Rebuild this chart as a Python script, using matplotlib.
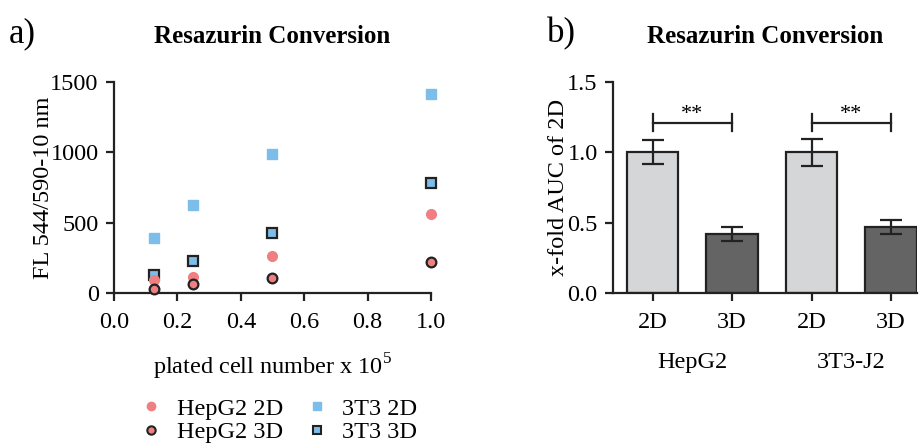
import numpy as np
import matplotlib
matplotlib.use('Agg')
import matplotlib.pyplot as plt
from matplotlib.lines import Line2D

# Resazurin conversion data
cells = [0.125, 0.25, 0.5, 1.0]          # plated cell number x 10^5
hepg2_2d = [95, 116, 265, 562]
hepg2_3d = [28, 66, 107, 223]
t3_2d = [393, 625, 988, 1415]
t3_3d = [130, 227, 429, 784]

bar_labels = ['2D', '3D', '2D', '3D']
groups = ['HepG2', '3T3-J2']
auc = [1.0, 0.42, 1.0, 0.47]
auc_err = [0.085, 0.048, 0.097, 0.048]

plt.rcParams['font.family'] = 'Liberation Serif'
plt.rcParams['mathtext.fontset'] = 'custom'
plt.rcParams['mathtext.rm'] = 'Liberation Serif'

pink = '#f07f82'
blue = '#7dbde9'
light = '#d5d6d8'
dark = '#646464'
fs = 17.5
lw = 1.6

fig = plt.figure(figsize=(9.19, 4.46), dpi=100)
ax1 = fig.add_axes([0.124, 0.343, 0.345, 0.473])
ax2 = fig.add_axes([0.667, 0.343, 0.331, 0.473])

# a) scatter
ms = 7
ax1.plot(cells, t3_2d, 's', color=blue, markersize=ms, markeredgecolor=blue, clip_on=False, zorder=3)
ax1.plot(cells, t3_3d, 's', color=blue, markersize=ms, markeredgecolor='#222222', markeredgewidth=1.6, clip_on=False, zorder=3)
ax1.plot(cells, hepg2_2d, 'o', color=pink, markersize=ms, markeredgecolor=pink, clip_on=False, zorder=3)
ax1.plot(cells, hepg2_3d, 'o', color=pink, markersize=ms, markeredgecolor='#222222', markeredgewidth=1.6, clip_on=False, zorder=3)
ax1.set_xlim(0, 1.0)
ax1.set_ylim(0, 1500)
ax1.set_xticks(np.arange(0, 1.01, 0.2))
ax1.set_xticklabels(['%.1f' % v for v in np.arange(0, 1.01, 0.2)])
ax1.set_yticks([0, 500, 1000, 1500])
ax1.set_xlabel('plated cell number x 10$^5$', fontsize=fs, labelpad=13)
ax1.set_ylabel('FL 544/590-10 nm', fontsize=fs)
ax1.yaxis.set_label_coords(-0.19, 0.5)
ax1.set_title('Resazurin Conversion', fontsize=18, fontweight='bold', pad=28)

# b) bars
pos = np.arange(len(auc))
ax2.bar(pos, auc, width=0.65, color=[light, dark, light, dark], edgecolor='#222222', linewidth=lw, zorder=2)
ax2.errorbar(pos, auc, yerr=auc_err, fmt='none', ecolor='#222222', elinewidth=lw, capsize=8, capthick=lw, zorder=3)
for i in [0, 2]:
    ax2.plot([pos[i], pos[i]], [1.15, 1.27], color='#222222', lw=lw)
    ax2.plot([pos[i + 1], pos[i + 1]], [1.15, 1.27], color='#222222', lw=lw)
    ax2.plot([pos[i], pos[i + 1]], [1.21, 1.21], color='#222222', lw=lw)
    ax2.text((pos[i] + pos[i + 1]) / 2, 1.20, '**', ha='center', va='bottom', fontsize=16)
ax2.set_xlim(-0.5, 3.33)
ax2.set_ylim(0, 1.5)
ax2.set_xticks(pos)
ax2.set_xticklabels(bar_labels)
ax2.set_yticks([0, 0.5, 1.0, 1.5])
ax2.set_yticklabels(['0.0', '0.5', '1.0', '1.5'])
ax2.set_ylabel('x-fold AUC of 2D', fontsize=fs)
ax2.yaxis.set_label_coords(-0.145, 0.5)
ax2.set_title('Resazurin Conversion', fontsize=18, fontweight='bold', pad=28)
for j, g in enumerate(groups):
    ax2.text(2 * j + 0.5, -0.33, g, transform=ax2.get_xaxis_transform(), ha='center', va='center', fontsize=fs)

for ax in (ax1, ax2):
    for s in ['top', 'right']:
        ax.spines[s].set_visible(False)
    for s in ['left', 'bottom']:
        ax.spines[s].set_linewidth(lw)
        ax.spines[s].set_color('#222222')
    ax.tick_params(width=lw, length=6, labelsize=fs, color='#222222', pad=5)
    ax.tick_params(axis='x', pad=8)

fig.text(0.010, 0.905, 'a)', fontsize=25)
fig.text(0.595, 0.905, 'b)', fontsize=25)

handles = [
    Line2D([], [], ls='none', marker='o', color=pink, markersize=6, markeredgecolor=pink),
    Line2D([], [], ls='none', marker='o', color=pink, markersize=6, markeredgecolor='#222222', markeredgewidth=1.5),
    Line2D([], [], ls='none', marker='s', color=blue, markersize=6, markeredgecolor=blue),
    Line2D([], [], ls='none', marker='s', color=blue, markersize=6, markeredgecolor='#222222', markeredgewidth=1.5),
]
fig.legend(handles, ['HepG2 2D', 'HepG2 3D', '3T3 2D', '3T3 3D'], ncol=2, frameon=False,
           loc='upper left', bbox_to_anchor=(0.138, 0.135), fontsize=fs, handletextpad=0.55,
           columnspacing=0.9, labelspacing=0.05, borderpad=0, handlelength=1.0)

fig.savefig('out.png', dpi=100)
